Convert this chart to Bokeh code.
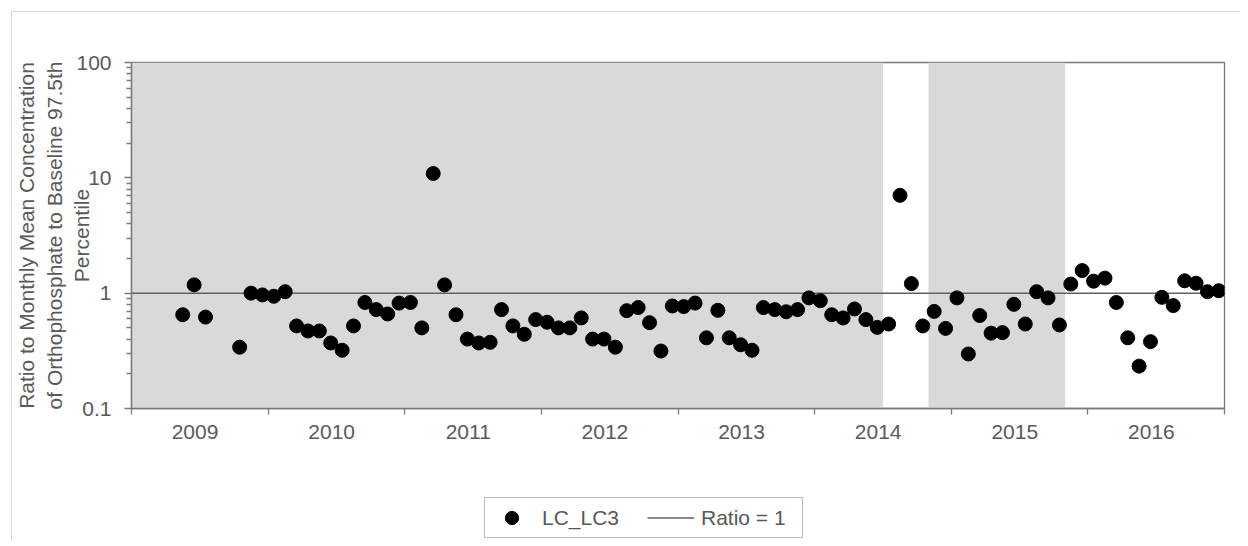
from bokeh.plotting import figure
from bokeh.models import Range1d, FixedTicker, Legend, LegendItem
from bokeh.layouts import column
from bokeh.embed import file_html
from bokeh.resources import INLINE

# ---- data ----
months = [
    "2009-05", "2009-06", "2009-07", "2009-10", "2009-11", "2009-12",
    "2010-01", "2010-02", "2010-03", "2010-04", "2010-05", "2010-06",
    "2010-07", "2010-08", "2010-09", "2010-10", "2010-11", "2010-12",
    "2011-01", "2011-02", "2011-03", "2011-04", "2011-05", "2011-06",
    "2011-07", "2011-08", "2011-09", "2011-10", "2011-11", "2011-12",
    "2012-01", "2012-02", "2012-03", "2012-04", "2012-05", "2012-06",
    "2012-07", "2012-08", "2012-09", "2012-10", "2012-11", "2012-12",
    "2013-01", "2013-02", "2013-03", "2013-04", "2013-05", "2013-06",
    "2013-07", "2013-08", "2013-09", "2013-10", "2013-11", "2013-12",
    "2014-01", "2014-02", "2014-03", "2014-04", "2014-05", "2014-06",
    "2014-07", "2014-08", "2014-09", "2014-10", "2014-11", "2014-12",
    "2015-01", "2015-02", "2015-03", "2015-04", "2015-05", "2015-06",
    "2015-07", "2015-08", "2015-09", "2015-10", "2015-11", "2015-12",
    "2016-01", "2016-02", "2016-03", "2016-04", "2016-05", "2016-06",
    "2016-07", "2016-08", "2016-09", "2016-10", "2016-11", "2016-12",
]
lc_lc3 = [
    0.65, 1.18, 0.62, 0.34, 1.00, 0.965,
    0.94, 1.03, 0.52, 0.47, 0.47, 0.37,
    0.32, 0.52, 0.83, 0.72, 0.66, 0.82,
    0.83, 0.50, 10.9, 1.18, 0.65, 0.40,
    0.37, 0.375, 0.72, 0.52, 0.44, 0.59,
    0.56, 0.50, 0.50, 0.61, 0.40, 0.40,
    0.34, 0.705, 0.75, 0.555, 0.315, 0.775,
    0.765, 0.82, 0.41, 0.71, 0.41, 0.357,
    0.32, 0.75, 0.72, 0.69, 0.72, 0.91,
    0.86, 0.65, 0.61, 0.73, 0.59, 0.505,
    0.54, 7.05, 1.21, 0.52, 0.695, 0.495,
    0.91, 0.297, 0.64, 0.45, 0.455, 0.80,
    0.54, 1.03, 0.91, 0.53, 1.20, 1.57,
    1.27, 1.35, 0.83, 0.41, 0.233, 0.38,
    0.92, 0.78, 1.28, 1.22, 1.03, 1.05,
]
shade_start = ["2009-01", "2014-11"]
shade_end = ["2014-07", "2015-11"]
year_labels = ["2009", "2010", "2011", "2012", "2013", "2014", "2015", "2016"]
y_tick_values = [0.1, 1, 10, 100]
y_tick_labels = ["0.1", "1", "10", "100"]
ratio_level = 1.0


def month_mid(s):
    y, m = s.split("-")
    return int(y) + (int(m) - 0.5) / 12.0


def month_start(s):
    y, m = s.split("-")
    return int(y) + (int(m) - 1) / 12.0


x_pts = [month_mid(s) for s in months]
x_lo = int(year_labels[0])
x_hi = int(year_labels[-1]) + 1
label_pos = [int(y) + 0.465 for y in year_labels]

FONT = "Liberation Sans"
TXT = "#595959"
AX = "#7a7a7a"
FS = "21px"
LINE_C = "#606060"

p = figure(
    width=1228, height=458,
    x_range=Range1d(x_lo, x_hi), y_range=Range1d(0.1, 100),
    y_axis_type="log",
    output_backend="svg", toolbar_location=None,
    min_border_left=119, min_border_top=50, min_border_right=16, min_border_bottom=62,
)
p.xgrid.visible = False
p.ygrid.visible = False
p.outline_line_color = AX
p.outline_line_width = 1.3
p.background_fill_color = "white"
p.border_fill_color = "white"

# shaded periods
p.quad(left=[month_start(s) for s in shade_start],
       right=[month_start(s) for s in shade_end],
       bottom=[y_tick_values[0]] * len(shade_start),
       top=[y_tick_values[-1]] * len(shade_start),
       fill_color="#d9d9d9", line_color=None)

p.line([x_lo, x_hi], [ratio_level, ratio_level], line_color=LINE_C, line_width=1.5)
p.scatter(x_pts, lc_lc3, marker="circle", size=14, fill_color="black", line_color="black")

# x axis
xa = p.xaxis[0]
xa.ticker = FixedTicker(ticks=label_pos, minor_ticks=list(range(x_lo, x_hi + 1)))
xa.major_label_overrides = dict(zip(label_pos, year_labels))
xa.major_tick_out = 0
xa.major_tick_in = 0
xa.minor_tick_out = 6
xa.minor_tick_in = 0
xa.minor_tick_line_color = AX
xa.minor_tick_line_width = 1.3
xa.axis_line_color = AX
xa.axis_line_width = 1.5
xa.major_label_text_font = FONT
xa.major_label_text_font_size = FS
xa.major_label_text_color = TXT
xa.major_label_standoff = 10

# y axis
ya = p.yaxis[0]
minor = [m * d for d in (0.1, 1, 10) for m in range(2, 10)]
ya.ticker = FixedTicker(ticks=y_tick_values, minor_ticks=minor)
ya.major_label_overrides = dict(zip(y_tick_values, y_tick_labels))
ya.major_tick_out = 7
ya.major_tick_in = 0
ya.minor_tick_out = 5
ya.minor_tick_in = 0
ya.major_tick_line_color = AX
ya.minor_tick_line_color = AX
ya.major_tick_line_width = 1.3
ya.minor_tick_line_width = 1.3
ya.axis_line_color = AX
ya.axis_line_width = 1.5
ya.major_label_text_font = FONT
ya.major_label_text_font_size = FS
ya.major_label_text_color = TXT
ya.major_label_standoff = 13
ya.axis_label = "Ratio to Monthly Mean Concentration\nof Orthophosphate to Baseline 97.5th\nPercentile"
ya.axis_label_text_font = FONT
ya.axis_label_text_font_size = FS
ya.axis_label_text_font_style = "normal"
ya.axis_label_text_color = TXT
ya.axis_label_standoff = -20

# ---- legend strip below the chart ----
pl = figure(
    width=1228, height=70,
    x_range=Range1d(0, 1), y_range=Range1d(0, 1),
    x_axis_location=None, y_axis_location=None,
    output_backend="svg", toolbar_location=None,
    min_border=0,
)
pl.xgrid.visible = False
pl.ygrid.visible = False
pl.outline_line_color = None
# legend proxies (drawn outside this strip's visible range)
pts_r = pl.scatter(x_pts, lc_lc3, marker="circle", size=14, fill_color="black", line_color="black")
ratio_r = pl.line([x_lo, x_hi], [ratio_level, ratio_level], line_color=LINE_C, line_width=1.5)

legend = Legend(
    items=[LegendItem(label="LC_LC3", renderers=[pts_r]),
           LegendItem(label="Ratio = 1", renderers=[ratio_r])],
    orientation="horizontal",
    location=(353, 2),
    glyph_width=47, glyph_height=33,
    label_standoff=7, spacing=7, label_width=98, label_height=24,
    padding=3, margin=0,
    border_line_color=AX, border_line_width=1.3,
    label_text_font=FONT, label_text_font_size=FS, label_text_color=TXT,
    background_fill_alpha=1.0,
)
pl.add_layout(legend, "center")

layout = column(p, pl, spacing=0,
                styles={"margin-left": "11px", "margin-top": "11px",
                        "border-left": "1px solid #d9d9d9",
                        "border-top": "1px solid #d9d9d9"})
open("out.html", "w").write(file_html(layout, INLINE))
